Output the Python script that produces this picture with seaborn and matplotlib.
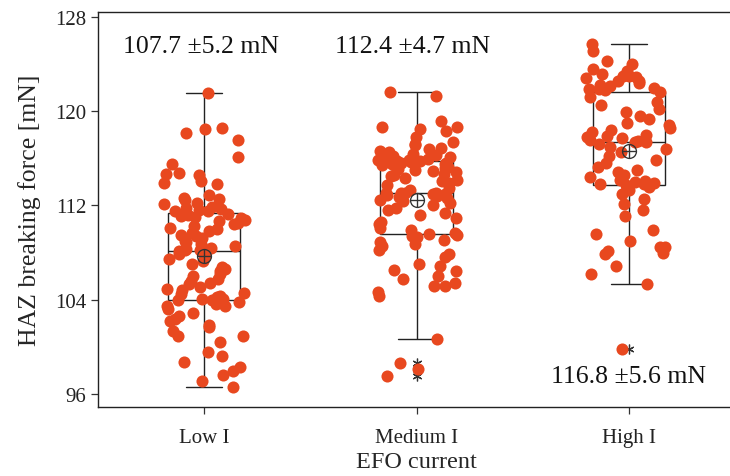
import numpy as np
import pandas as pd
import matplotlib
matplotlib.use("Agg")
import matplotlib.pyplot as plt
import seaborn as sns

categories = ["Low I", "Medium I", "High I"]

low_vals = [
    121.55, 118.55, 118.13, 118.5, 117.59, 116.09, 115.52, 114.73, 114.67, 114.61,
    113.88, 114.1, 113.83, 112.47, 112.55, 111.9, 112.13, 112.9, 112.6, 112.2,
    111.8, 111.7, 111.6, 111.5, 111.5,
    111.3, 111.2, 111.1, 111.0, 110.9, 110.8, 110.7, 110.5, 110.4, 110.3,
    110.1, 110.0, 109.8, 109.7, 109.5, 109.4, 109.2, 109.0, 108.9, 108.7,
    108.6, 108.4, 108.3, 108.2, 108.2, 108.1, 107.9, 107.7, 107.5, 107.3,
    107.0, 106.8, 106.6, 106.4, 106.2, 106.0, 105.8, 105.6, 105.4, 105.3,
    105.1, 104.9, 104.8, 104.6, 104.5, 104.3, 104.2, 104.1, 104.1, 104.0,
    103.5, 103.2, 102.65, 102.37, 102.2, 101.37, 101.66, 100.95, 100.95, 100.39,
    99.54, 99.25, 98.69, 98.27, 97.98, 97.6, 97.13, 96.57, 103.5, 103.9,
    103.8, 103.6, 102.9, 101.9, 103.95,
]

medium_vals = [
    121.6, 121.3, 119.2, 118.7, 118.35, 118.5, 118.7, 117.8, 117.4, 116.9,
    117.1, 116.4, 116.2, 116.5, 116.65, 116.1, 115.95, 116.0, 115.9, 115.85,
    115.8, 116.3, 116.8, 117.2, 115.8,
    109.6, 109.7, 109.9, 110.1, 110.4, 110.6, 110.9, 111.2, 111.4, 111.6,
    111.8, 112.0, 112.2, 112.4, 112.5, 112.6, 112.7, 112.8, 112.9, 113.0,
    113.0, 113.0, 113.1, 113.1, 113.1, 113.1, 113.3, 113.5, 113.7, 113.9,
    114.1, 114.2, 114.3, 114.5, 114.6, 114.7, 114.8, 114.9, 115.0, 115.1,
    115.2, 115.3, 115.4, 115.5, 115.5, 115.6, 115.6, 115.7, 115.7, 115.75,
    108.6, 107.6, 107.0, 106.9, 106.5, 106.4, 106.0, 105.8, 105.4, 105.2,
    105.2, 104.7, 104.3, 100.67, 98.6, 98.1, 97.5, 109.5, 109.3, 109.1,
    108.9, 108.7, 108.2, 107.9, 109.4,
]

high_vals = [
    125.7, 125.1, 124.0, 123.6, 123.2, 123.0, 123.0, 122.9, 122.6, 122.6,
    122.4, 122.2, 122.1, 122.0, 121.9, 121.8, 124.3, 123.4, 122.8, 121.85,
    113.75, 113.8, 113.8, 113.9, 114.0, 114.1, 114.2, 114.4, 114.6, 114.8,
    115.0, 115.3, 115.6, 115.9, 116.2, 116.5, 116.8, 117.0, 117.2, 117.35,
    117.4, 117.5, 117.6, 117.7, 117.8, 117.9, 118.0, 118.2, 118.4, 118.6,
    118.8, 119.0, 119.3, 119.6, 119.9, 120.2, 120.5, 120.8, 121.2, 121.6,
    112.55, 112.13, 111.65, 111.14, 109.95, 109.6, 109.0, 108.45, 108.5, 107.9,
    108.1, 108.0, 106.9, 106.2, 105.3, 99.8, 113.6, 113.5, 113.3, 113.0,
]

annot_labels = ["107.7 \u00b15.2 mN", "112.4 \u00b14.7 mN", "116.8 \u00b15.6 mN"]
annot_x = [-0.015, 0.98, 2.0]
annot_y = [125.55, 125.55, 97.5]

yticks = [96, 104, 112, 120, 128]

df = pd.DataFrame({
    "group": ["Low I"] * len(low_vals) + ["Medium I"] * len(medium_vals) + ["High I"] * len(high_vals),
    "force": low_vals + medium_vals + high_vals,
})

sns.set_style("ticks")
plt.rcParams["font.family"] = ["Liberation Serif", "DejaVu Serif"]
plt.rcParams["mathtext.fontset"] = "stix"

fig = plt.figure(figsize=(7.3, 4.77), dpi=100)
ax = fig.add_axes([98 / 730, 1 - 408 / 477, (735 - 98) / 730, (408 - 13) / 477])

point_color = "#E8481F"

sns.boxplot(
    data=df, x="group", y="force", order=categories, ax=ax,
    width=0.34, color="white", linecolor="#222222", linewidth=1.0,
    showmeans=True,
    meanprops=dict(marker=r"$\oplus$", markersize=11, markerfacecolor="#333333",
                   markeredgecolor="#333333", markeredgewidth=0.0, zorder=6),
    flierprops=dict(marker=(6, 2, 0), markersize=7, markeredgecolor="#333333",
                    markeredgewidth=0.9),
    zorder=1,
)

np.random.seed(3)
sns.stripplot(
    data=df, x="group", y="force", order=categories, ax=ax,
    color=point_color, size=8.7, jitter=0.2, linewidth=0, alpha=1.0, zorder=3,
)

for lab, xx, yy in zip(annot_labels, annot_x, annot_y):
    ax.text(xx, yy, lab, ha="center", va="center", fontsize=18.5, color="#111111")

ax.set_xlim(-0.5, 2.5)
ax.set_ylim(94.9, 128.42)
ax.set_yticks(yticks)
ax.set_yticklabels([str(t) for t in yticks])
ax.set_xlabel("EFO current", fontsize=17.5, labelpad=3)
ax.set_ylabel("HAZ breaking force [mN]", fontsize=18.5, labelpad=10)
ax.tick_params(axis="both", labelsize=15, direction="out", length=5, width=0.9,
               color="#333333", labelcolor="#222222")
ax.tick_params(axis="x", pad=10)

for s in ax.spines.values():
    s.set_visible(True)
    s.set_linewidth(1.0)
    s.set_color("#222222")

fig.savefig("out.png", dpi=100)
